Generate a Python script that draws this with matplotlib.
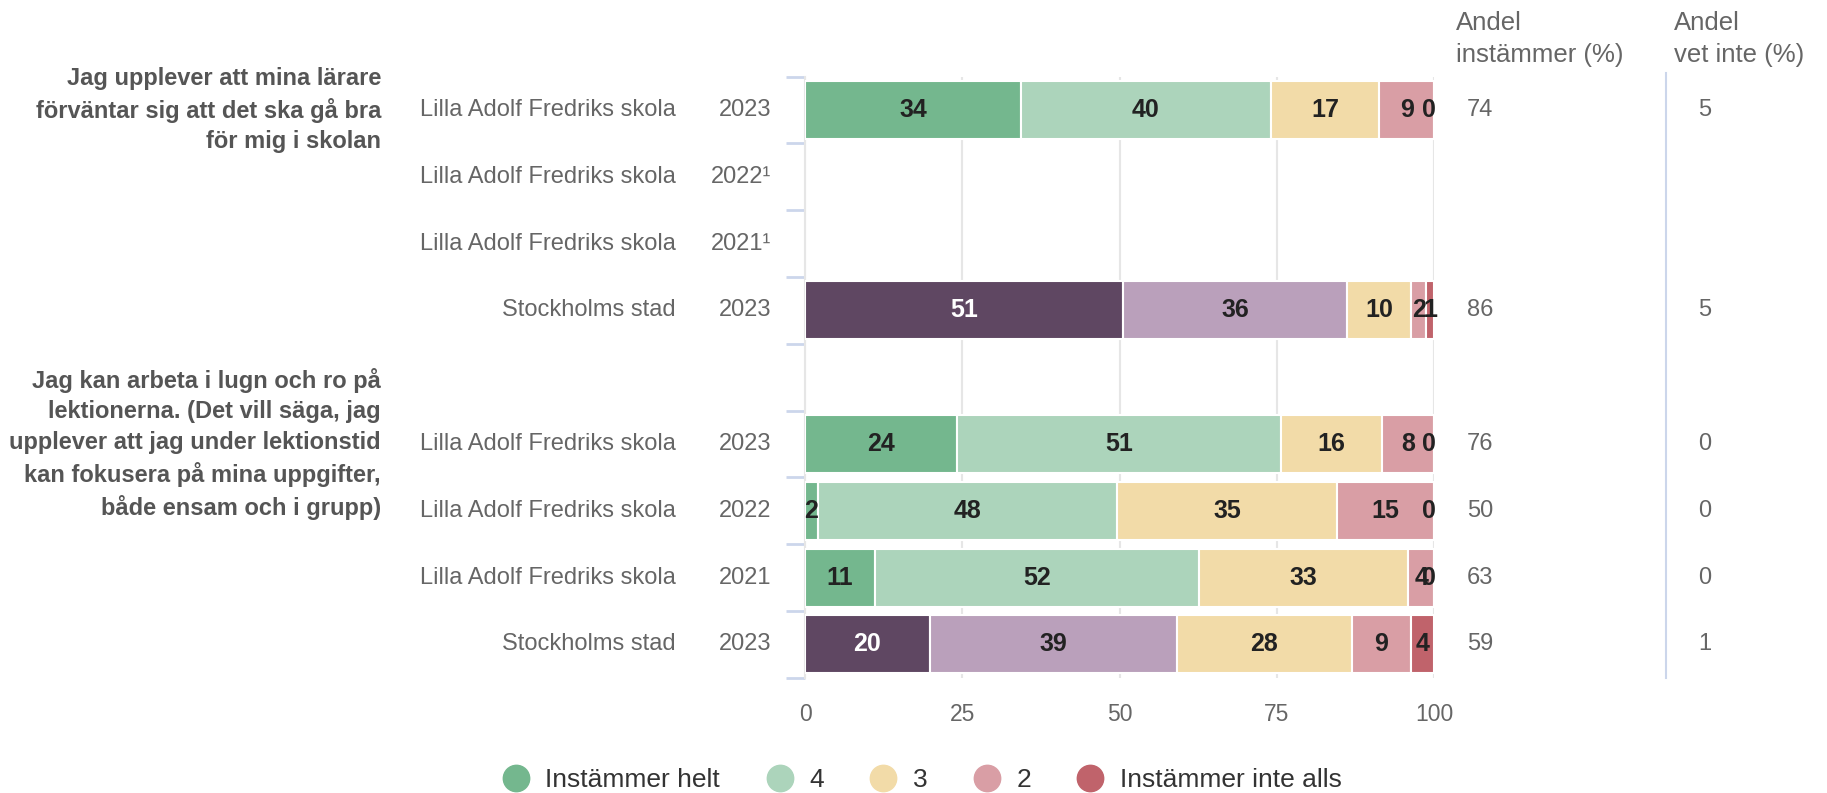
import matplotlib
matplotlib.use("Agg")
import matplotlib.pyplot as plt
from matplotlib.lines import Line2D
import matplotlib.transforms as mtransforms

plt.rcParams['font.family'] = ['Liberation Sans', 'DejaVu Sans']

# ---- data ----
units = ["Lilla Adolf Fredriks skola", "Lilla Adolf Fredriks skola", "Lilla Adolf Fredriks skola",
         "Stockholms stad", "", "Lilla Adolf Fredriks skola", "Lilla Adolf Fredriks skola",
         "Lilla Adolf Fredriks skola", "Stockholms stad"]
years = ["2023", "2022¹", "2021¹", "2023", "", "2023", "2022", "2021", "2023"]
questions = ["Jag upplever att mina lärare\nförväntar sig att det ska gå bra\nför mig i skolan",
             "Jag kan arbeta i lugn och ro på\nlektionerna. (Det vill säga, jag\nupplever att jag under lektionstid\nkan fokusera på mina uppgifter,\nbåde ensam och i grupp)"]
question_rows = [0, 5]

series_names = ["Instämmer helt", "4", "3", "2", "Instämmer inte alls"]
helt = [34.3, None, None, 50.6, None, 24.2, 2.0, 11.1, 19.8]
fyra = [39.8, None, None, 35.6, None, 51.4, 47.6, 51.6, 39.3]
tre = [17.2, None, None, 10.2, None, 16.2, 35.0, 33.2, 27.9]
tva = [8.7, None, None, 2.3, None, 8.2, 15.4, 4.1, 9.3]
inte = [0.0, None, None, 1.3, None, 0.0, 0.0, 0.0, 3.7]
andel_instammer = [74, None, None, 86, None, 76, 50, 63, 59]
andel_vet_inte = [5, None, None, 5, None, 0, 0, 0, 1]

# ---- styles ----
school_colors = ["#74b78e", "#acd4bb", "#f2dba8", "#d99ea5", "#c0636b"]
city_colors = ["#5f4762", "#baa0bb", "#f2dba8", "#d99ea5", "#c0636b"]
label_grey = "#666666"

W, H = 1827, 793
fig = plt.figure(figsize=(W / 100, H / 100), dpi=100)
ax_left, ax_right = 805 / W, 1434 / W
ax_top, ax_bot = 1 - 76.6 / H, 1 - 677.8 / H
ax = fig.add_axes([ax_left, ax_bot, ax_right - ax_left, ax_top - ax_bot])

n = len(units)
ax.set_xlim(0, 100)
ax.set_ylim(n - 0.5, -0.5)

all_series = [helt, fyra, tre, tva, inte]
bar_h = 0.868
for i in range(n):
    if helt[i] is None:
        continue
    cols = city_colors if units[i].startswith("Stockholm") else school_colors
    left = 0.0
    for k, s in enumerate(all_series):
        v = s[i]
        ax.barh(i, v, left=left, height=bar_h, color=cols[k], edgecolor="white",
                linewidth=1.5, zorder=3)
        txtcol = "white" if (cols[k] == "#5f4762") else "#222222"
        if v == 0:
            ax.annotate(str(round(v)), xy=(left, i), xytext=(1, 0), textcoords="offset points",
                        ha="right", va="center", fontsize=18, fontweight="bold",
                        color=txtcol, zorder=4)
        else:
            ax.text(left + v / 2, i, str(round(v)), ha="center", va="center", fontsize=18,
                    fontweight="bold", color=txtcol, zorder=4)
        left += v

# axes styling
for sp in ["top", "right", "bottom"]:
    ax.spines[sp].set_visible(False)
ax.spines["left"].set_color("#e6e6e6")
ax.spines["left"].set_linewidth(1.5)
ax.set_xticks([0, 25, 50, 75, 100])
ax.tick_params(axis="x", length=0, labelsize=16.5, labelcolor=label_grey, pad=18)
ax.grid(axis="x", color="#e6e6e6", linewidth=1.5, zorder=0)
ax.set_yticks([i - 0.5 for i in range(n + 1)])
ax.set_yticklabels([])
ax.tick_params(axis="y", length=14, width=2, color="#ccd6eb")

# category labels
trans = mtransforms.blended_transform_factory(fig.transFigure, ax.transData)
for i in range(n):
    if units[i]:
        fig.text(676 / W, i, units[i], transform=trans, ha="right", va="center",
                 fontsize=17, color=label_grey)
        fig.text(771 / W, i, years[i], transform=trans, ha="right", va="center",
                 fontsize=17, color=label_grey)
for q, r in zip(questions, question_rows):
    fig.text(381 / W, r, q, transform=trans, ha="right", va="center", fontsize=17,
             fontweight="bold", color="#555555", linespacing=1.42, multialignment="right")

# right columns
fig.text(1456 / W, 1 - 23 / H, "Andel", ha="left", va="center", fontsize=18.5, color=label_grey)
fig.text(1456 / W, 1 - 55 / H, "instämmer (%)", ha="left", va="center", fontsize=18.5, color=label_grey)
fig.text(1674 / W, 1 - 23 / H, "Andel", ha="left", va="center", fontsize=18.5, color=label_grey)
fig.text(1674 / W, 1 - 55 / H, "vet inte (%)", ha="left", va="center", fontsize=18.5, color=label_grey)
for i in range(n):
    if andel_instammer[i] is not None:
        fig.text(1467 / W, i, str(andel_instammer[i]), transform=trans, ha="left",
                 va="center", fontsize=17, color=label_grey)
        fig.text(1698 / W, i, str(andel_vet_inte[i]), transform=trans, ha="left",
                 va="center", fontsize=17, color=label_grey)
fig.add_artist(Line2D([1666 / W, 1666 / W], [ax_bot, 1 - 73 / H], transform=fig.transFigure,
                      color="#ccd6eb", linewidth=1.5))

# legend
handles = [Line2D([], [], marker="o", linestyle="none", markersize=19,
                  markerfacecolor=c, markeredgecolor=c) for c in school_colors]
fig.legend(handles, series_names, loc="center", bbox_to_anchor=(0.5048, 1 - 780 / H),
           ncol=5, frameon=False, fontsize=19, handlelength=1.0, handletextpad=0.62,
           columnspacing=1.75, labelcolor="#333333")

fig.savefig("out.png", dpi=100)
